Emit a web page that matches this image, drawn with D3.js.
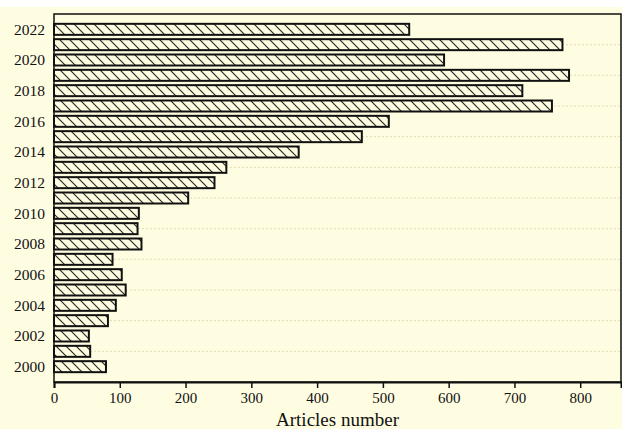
<!DOCTYPE html>
<html>
<head>
<meta charset="utf-8">
<script src="https://cdn.jsdelivr.net/npm/d3@7"></script>
<style>
  html, body { margin: 0; padding: 0; background: #fffde1; }
  svg { display: block; }
</style>
</head>
<body>
<svg id="chart" width="622" height="429"></svg>
<script>
const years = [2000,2001,2002,2003,2004,2005,2006,2007,2008,2009,2010,2011,2012,2013,2014,2015,2016,2017,2018,2019,2020,2021,2022];
const articles = [79,55,53,82,94,109,103,89,133,127,129,204,244,262,372,468,509,757,712,783,593,773,540];
const xTicks = [0,100,200,300,400,500,600,700,800];
const yTickLabels = [2000,2002,2004,2006,2008,2010,2012,2014,2016,2018,2020,2022];
const gridYears = [2001,2003,2005,2007,2009,2011,2013,2015,2017,2019,2021];

const svg = d3.select("#chart");
const W = 622, H = 429;
const mLeft = 54, mRight = 621, mTop = 14, mBottom = 382;

svg.append("rect").attr("x",0).attr("y",0).attr("width",W).attr("height",H).attr("fill","#fffde1");
svg.append("rect").attr("x",0).attr("y",0).attr("width",W).attr("height",7).attr("fill","#ffffff");

const x = d3.scaleLinear().domain([0, 862]).range([mLeft, mRight]);
const y = d3.scaleLinear().domain([1999, 2023]).range([mBottom, mTop]);

const defs = svg.append("defs");
const pat = defs.append("pattern").attr("id","hatch")
  .attr("patternUnits","userSpaceOnUse").attr("width",10).attr("height",10);
pat.append("rect").attr("width",10).attr("height",10).attr("fill","#fffde1");
pat.append("path").attr("d","M-2,-2 L12,12 M-2,8 L2,12 M8,-2 L12,2")
  .attr("stroke","#2a2a2a").attr("stroke-width",1.2);

// grid lines (dotted)
svg.append("g").selectAll("line").data(gridYears).join("line")
  .attr("x1", mLeft).attr("x2", mRight)
  .attr("y1", d => y(d)).attr("y2", d => y(d))
  .attr("stroke", "#e6dcb4").attr("stroke-width", 1).attr("stroke-dasharray", "2,2");

// bars
const barH = 11;
svg.append("g").selectAll("rect").data(years).join("rect")
  .attr("x", x(0))
  .attr("y", (d) => y(d) - barH/2)
  .attr("width", (d,i) => x(articles[i]) - x(0))
  .attr("height", barH)
  .attr("fill", "url(#hatch)")
  .attr("stroke", "#111").attr("stroke-width", 2);

// frame
svg.append("rect").attr("x", mLeft).attr("y", mTop).attr("width", mRight-mLeft).attr("height", mBottom-mTop)
  .attr("fill","none").attr("stroke","#111").attr("stroke-width",1.5);

// x axis
const xAxis = d3.axisBottom(x).tickValues(xTicks).tickSize(6).tickPadding(4).tickFormat(d3.format("d"));
const gx = svg.append("g").attr("transform", `translate(0,${mBottom})`).call(xAxis);
gx.select(".domain").attr("stroke","#111").attr("stroke-width",2);
gx.selectAll(".tick line").attr("stroke","#111").attr("stroke-width",1.5);
gx.selectAll(".tick text").attr("font-family","'Liberation Serif', 'Times New Roman', serif")
  .attr("font-size","15px").attr("fill","#111");

// y axis
const yAxis = d3.axisLeft(y).tickValues(yTickLabels).tickSize(0).tickPadding(9).tickFormat(d3.format("d"));
const gy = svg.append("g").attr("transform", `translate(${mLeft},0)`).call(yAxis);
gy.select(".domain").remove();
gy.selectAll(".tick text").attr("font-family","'Liberation Serif', 'Times New Roman', serif")
  .attr("font-size","15.5px").attr("fill","#111");

// axis title
svg.append("text").attr("x", (mLeft+mRight)/2).attr("y", 426)
  .attr("text-anchor","middle")
  .attr("font-family","'Liberation Serif', 'Times New Roman', serif")
  .attr("font-size","19px").attr("fill","#111")
  .text("Articles number");
</script>
</body>
</html>
